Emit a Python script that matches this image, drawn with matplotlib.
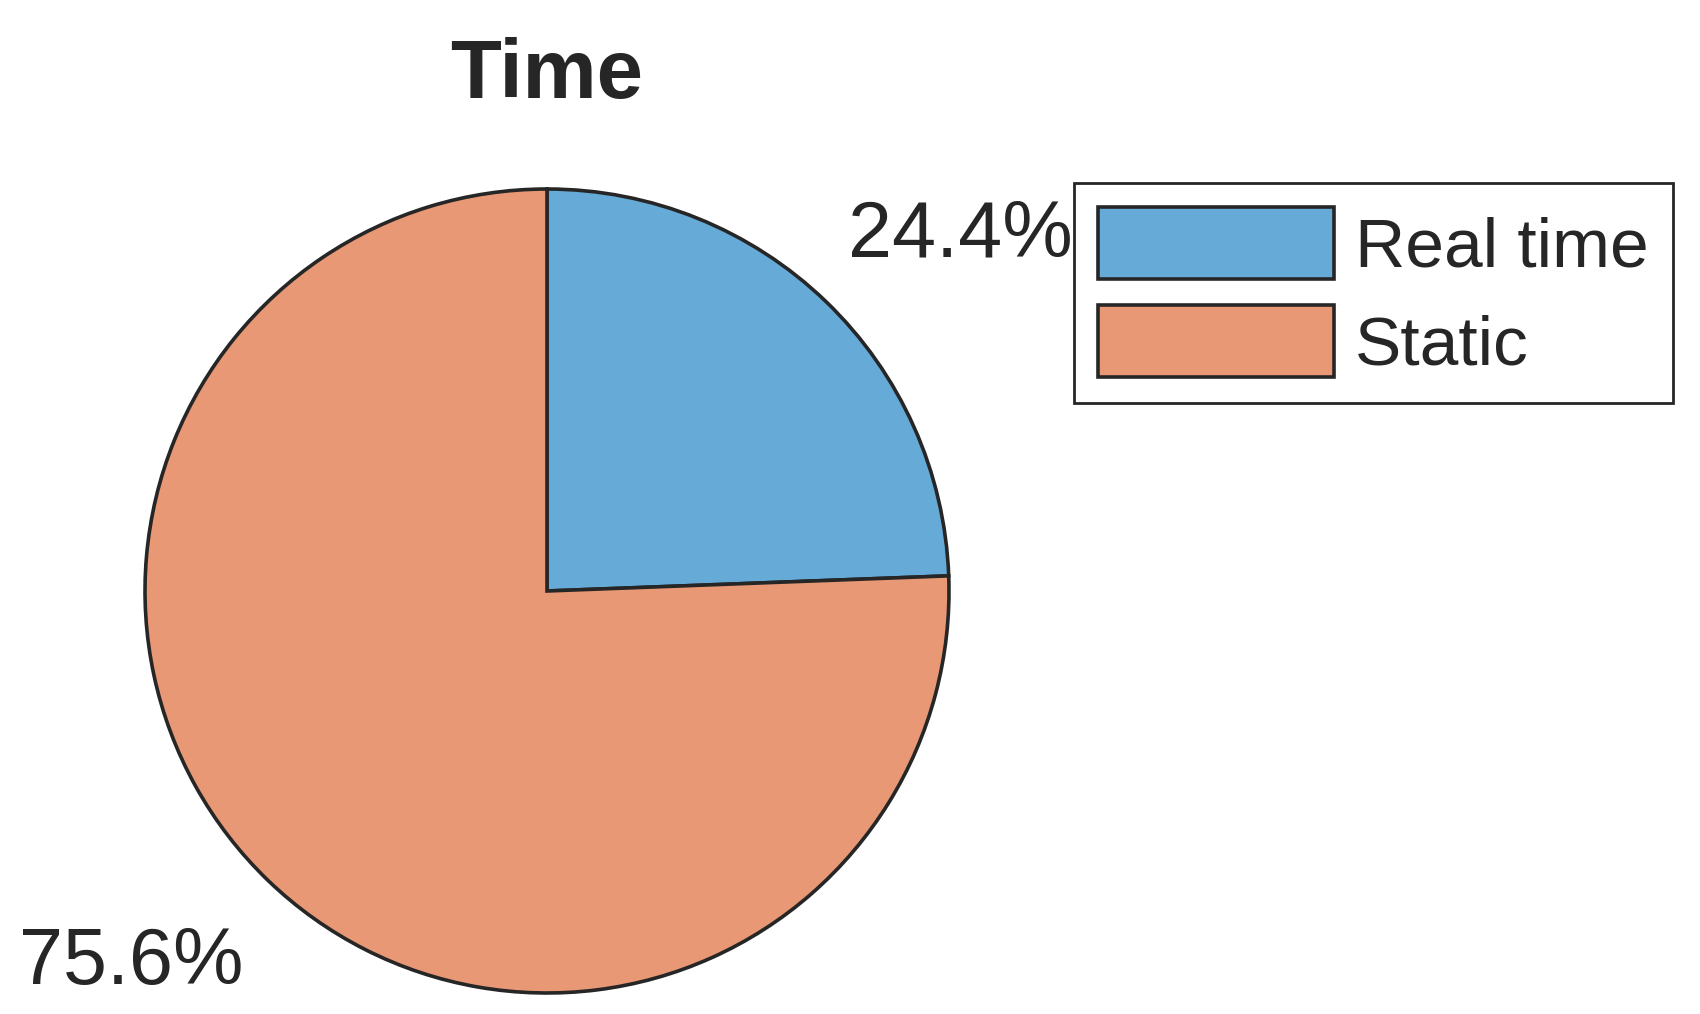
import matplotlib.pyplot as plt
from matplotlib.transforms import offset_copy

# data
labels = ['Real time', 'Static']
shares = [24.4, 75.6]
colors = ['#66aad7', '#e89874']
title = 'Time'

plt.rcParams['font.family'] = ['Liberation Sans', 'DejaVu Sans']
dark = '#262626'

fig = plt.figure(figsize=(17, 10.14), dpi=100)
# pie centre (547,591) px, radius 404 px
ax = fig.add_axes([(547 - 404) / 1700, (1014 - 591 - 404) / 1014, 808 / 1700, 808 / 1014])

wedges, texts = ax.pie(shares, colors=colors, startangle=90, counterclock=False,
                       labels=['%.1f%%' % s for s in shares], labeldistance=1.1,
                       wedgeprops={'edgecolor': dark, 'linewidth': 2.6},
                       textprops={'fontsize': 57, 'color': dark})
# label placement like matlab: above -> bottom aligned, below -> top aligned
for t in texts:
    x, y = t.get_position()
    if y > 0:
        t.set_va('bottom')
        t.set_transform(offset_copy(ax.transData, fig, x=-4, y=-1, units='points'))
    else:
        t.set_va('top')
        t.set_transform(offset_copy(ax.transData, fig, x=2, y=-12, units='points'))

ax.set_xlim(-1.005, 1.005)
ax.set_ylim(-1.005, 1.005)
ax.set_aspect('equal')

fig.text(547 / 1700, 1 - 76 / 1014, title, ha='center', va='center',
         fontsize=60, fontweight='bold', color=dark)

leg = ax.legend(wedges, labels, loc='upper left',
                bbox_to_anchor=(1074 / 1700, 1 - 183 / 1014), bbox_transform=fig.transFigure,
                fontsize=50, frameon=True, fancybox=False, edgecolor=dark, framealpha=1,
                handlelength=3.4, handleheight=1.22, handletextpad=0.3,
                labelspacing=0.35, borderpad=0.35, borderaxespad=0)
leg.get_frame().set_linewidth(2.0)
for t in leg.get_texts():
    t.set_color(dark)

fig.savefig('out.png', dpi=100)
